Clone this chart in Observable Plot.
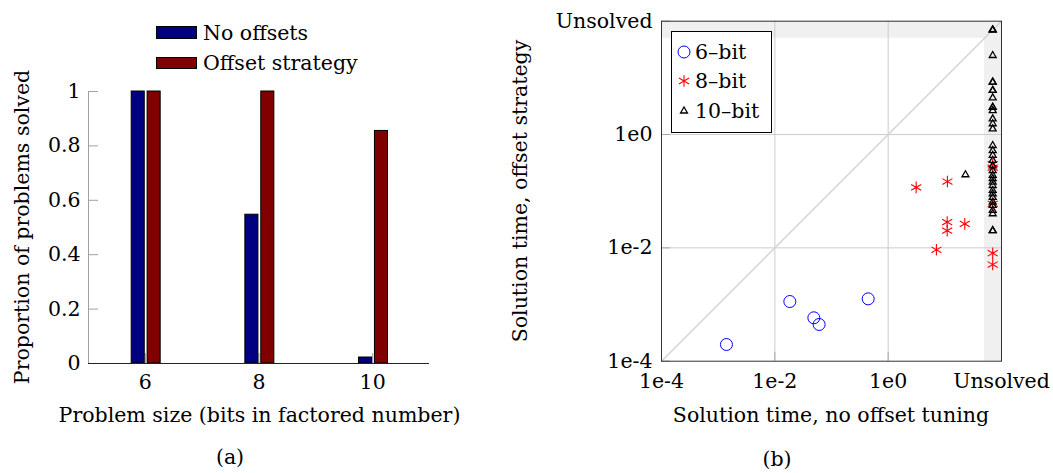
<!DOCTYPE html>
<html>
<head>
<meta charset="utf-8">
<script src="https://cdn.jsdelivr.net/npm/d3@7"></script>
<script src="https://cdn.jsdelivr.net/npm/@observablehq/plot@0.6"></script>
<style>
  body { margin: 0; background: #fff; }
  #root { position: relative; width: 1053px; height: 473px; overflow: hidden;
          font-family: "DejaVu Serif", serif; font-size: 20.5px; color: #000; }
  .abs { position: absolute; white-space: nowrap; line-height: 1; }
  .cx { transform: translate(-50%, -50%); }
  .rot { transform: translate(-50%, -50%) rotate(-90deg); }
  .lab { transform: translateY(-50%); }
  #plotA, #plotB { position: absolute; top: 0; }
  #plotA { left: 0; }
  #plotB { left: 500px; }
</style>
</head>
<body>
<div id="root">
  <div id="plotA"></div>
  <div id="plotB"></div>
</div>
<script>
// ---------- Data: panel (a) ----------
const sizes = [6, 8, 10];
const noOffsets = [1.0, 0.547, 0.022];
const offsetStrategy = [1.0, 1.0, 0.855];
const seriesNames = ["No offsets", "Offset strategy"];
const seriesColors = ["#000080", "#800000"];
const yTicksA = [0, 0.2, 0.4, 0.6, 0.8, 1];
const xTicksA = [6, 8, 10];
const xDomainA = [5, 11];

// ---------- Data: panel (b) ----------
const timeDomain = [1e-4, 1e2];
const timeTicks = [1e-4, 1e-2, 1, 1e2];
const timeTickLabels = ["1e-4", "1e-2", "1e0", "Unsolved"];
const gridTicks = [1e-2, 1];
const unsolved = 70;            // where unsolved runs are drawn
const unsolvedBand = [50, 100]; // shaded "Unsolved" strip

const bit6X = [0.0014, 0.0184, 0.0488, 0.0605, 0.444];
const bit6Y = [0.000197, 0.00113, 0.000583, 0.000445, 0.00126];

const bit8X = [3.12, 11.1, 11.0, 11.0, 22.5, 7.1, unsolved, unsolved, unsolved, unsolved, unsolved];
const bit8Y = [0.117, 0.148, 0.0284, 0.0202, 0.0265, 0.00925, 0.00805, 0.00508, 0.30, 0.26, 0.06];

const bit10X = [23.1, unsolved, unsolved, unsolved, unsolved, unsolved, unsolved, unsolved, unsolved,
  unsolved, unsolved, unsolved, unsolved, unsolved, unsolved, unsolved, unsolved, unsolved, unsolved,
  unsolved, unsolved, unsolved, unsolved, unsolved, unsolved, unsolved, unsolved, unsolved, unsolved,
  unsolved, unsolved, unsolved, unsolved, unsolved, unsolved];
const bit10Y = [0.195, 70, 70, 70, 24.8, 8.4, 8.4, 6.0, 6.0, 4.45, 3.03, 3.03, 2.64, 1.89, 1.55, 1.26,
  0.64, 0.52, 0.43, 0.35, 0.28, 0.23, 0.19, 0.166, 0.145, 0.126, 0.103, 0.09, 0.078, 0.064, 0.056,
  0.046, 0.04, 0.0202, 0.0202];

const legendB = [
  {label: "6–bit", symbol: "circle", color: "#0000ff"},
  {label: "8–bit", symbol: "asterisk", color: "#ff0000"},
  {label: "10–bit", symbol: "triangle2", color: "#000000"}
];

// ---------- Panel (a) ----------
const bars = sizes.flatMap((s, i) => [
  {size: s, series: seriesNames[0], value: noOffsets[i]},
  {size: s, series: seriesNames[1], value: offsetStrategy[i]}
]);
const barSpan = {"No offsets": [-0.24, -0.01], "Offset strategy": [0.04, 0.27]};

const fontStyle = {fontFamily: "DejaVu Serif, serif", fontSize: "20.5px", background: "transparent", overflow: "visible", color: "#000"};

const plotA = Plot.plot({
  width: 500, height: 473,
  marginLeft: 88, marginRight: 71, marginTop: 91, marginBottom: 110,
  style: fontStyle,
  x: {type: "linear", domain: xDomainA},
  y: {domain: [0, 1]},
  color: {domain: seriesNames, range: seriesColors},
  marks: [
    Plot.axisY(yTicksA, {tickSize: -10, stroke: "#a0a0a0", tickFormat: () => "", label: null}),
    Plot.axisX(xTicksA, {tickSize: -10, stroke: "#a0a0a0", tickFormat: () => "", label: null}),
    Plot.axisY(yTicksA, {tickSize: 0, tickPadding: 8, tickFormat: d => String(d), label: null}),
    Plot.axisX(xTicksA, {tickSize: 0, tickPadding: 11, tickFormat: d => String(d), label: null}),
    Plot.ruleX([xDomainA[0]], {stroke: "#a0a0a0"}),
    Plot.rectY(bars, {
      x1: d => d.size + barSpan[d.series][0],
      x2: d => d.size + barSpan[d.series][1],
      y1: 0, y2: "value", fill: "series", stroke: "#000", strokeWidth: 1
    }),
    Plot.ruleY([0], {stroke: "#222"})
  ]
});
document.getElementById("plotA").appendChild(plotA);

// ---------- Panel (b) ----------
const pts6 = bit6X.map((x, i) => ({x, y: bit6Y[i]}));
const pts8 = bit8X.map((x, i) => ({x, y: bit8Y[i]}));
const pts10 = bit10X.map((x, i) => ({x, y: bit10Y[i]}));
const diag = timeDomain.map(v => ({x: v, y: v}));
const fmtTime = d => timeTickLabels[timeTicks.indexOf(d)];

const plotB = Plot.plot({
  width: 553, height: 473,
  marginLeft: 161, marginRight: 52, marginTop: 20.7, marginBottom: 112.3,
  style: fontStyle,
  x: {type: "log", domain: timeDomain},
  y: {type: "log", domain: timeDomain},
  marks: [
    Plot.rect([unsolvedBand], {x1: d => d[0], x2: d => d[1], y1: timeDomain[0], y2: timeDomain[1], fill: "#f0f0f0"}),
    Plot.rect([unsolvedBand], {y1: d => d[0], y2: d => d[1], x1: timeDomain[0], x2: timeDomain[1], fill: "#f0f0f0"}),
    Plot.ruleX(gridTicks, {stroke: "#cccccc"}),
    Plot.ruleY(gridTicks, {stroke: "#cccccc"}),
    Plot.line(diag, {x: "x", y: "y", stroke: "#d4d4d4"}),
    Plot.axisY(timeTicks, {tickSize: -9, stroke: "#aaaaaa", tickFormat: () => "", label: null}),
    Plot.axisX(timeTicks, {tickSize: -9, stroke: "#aaaaaa", tickFormat: () => "", label: null}),
    Plot.axisY(timeTicks, {tickSize: 0, tickPadding: 9, tickFormat: fmtTime, label: null}),
    Plot.axisX(timeTicks, {tickSize: 0, tickPadding: 12, tickFormat: fmtTime, label: null}),
    Plot.dot(pts6, {x: "x", y: "y", r: 6, stroke: "#0000ff", fill: "none", strokeWidth: 1}),
    Plot.dot(pts8, {x: "x", y: "y", r: 5.5, symbol: "asterisk", stroke: "#ff0000", strokeWidth: 1.1}),
    Plot.dot(pts10, {x: "x", y: "y", r: 3.3, symbol: "triangle2", stroke: "#000", fill: "none", strokeWidth: 1.3}),
    Plot.frame({stroke: "#333"})
  ]
});
document.getElementById("plotB").appendChild(plotB);

// ---------- Titles, captions, legends (HTML) ----------
const root = document.getElementById("root");
function addText(txt, x, y, cls) {
  const d = document.createElement("div");
  d.className = "abs " + cls;
  d.style.left = x + "px"; d.style.top = y + "px";
  d.textContent = txt;
  root.appendChild(d);
  return d;
}
addText("Proportion of problems solved", 22, 227, "rot");
addText("Problem size (bits in factored number)", 259.5, 415, "cx");
addText("(a)", 230, 457, "cx");
addText("Solution time, offset strategy", 520, 191, "rot");
addText("Solution time, no offset tuning", 831, 415, "cx");
addText("(b)", 777, 459, "cx");

// legend (a)
seriesNames.forEach((name, i) => {
  const sw = document.createElement("div");
  sw.className = "abs";
  Object.assign(sw.style, {left: "156px", top: (26 + i * 30.5) + "px", width: "41px", height: "12.5px",
    background: seriesColors[i], border: "1px solid #000", boxSizing: "border-box"});
  root.appendChild(sw);
  addText(name, 203, 32.5 + i * 30.5, "lab");
});

// legend (b)
const box = document.createElement("div");
box.className = "abs";
Object.assign(box.style, {left: "671px", top: "31px", width: "101px", height: "102px",
  background: "#fff", border: "1px solid #000", boxSizing: "border-box"});
root.appendChild(box);
const symMap = {asterisk: d3.symbolAsterisk, triangle2: d3.symbolTriangle2};
const legendR = {circle: 6, asterisk: 5.5, triangle2: 3.3};
legendB.forEach((e, i) => {
  const cy = 51.7 + i * 29.7;
  const svg = d3.select(root).append("svg")
    .attr("width", 20).attr("height", 20)
    .style("position", "absolute").style("left", (684 - 10) + "px").style("top", (cy - 10) + "px");
  const r = legendR[e.symbol];
  if (e.symbol === "circle") {
    svg.append("circle").attr("cx", 10).attr("cy", 10).attr("r", r)
      .attr("fill", "none").attr("stroke", e.color);
  } else {
    svg.append("path").attr("transform", "translate(10,10)")
      .attr("d", d3.symbol(symMap[e.symbol], r * r * Math.PI)())
      .attr("fill", "none").attr("stroke", e.color).attr("stroke-width", e.symbol === "triangle2" ? 1.3 : 1.1);
  }
  addText(e.label, 695, cy, "lab");
});
</script>
</body>
</html>
